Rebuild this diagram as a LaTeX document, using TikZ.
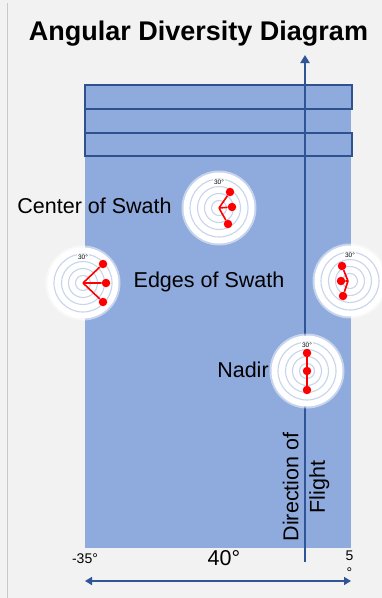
\documentclass[tikz,border=0pt]{standalone}
\usepackage{fontspec}
\setmainfont{Liberation Sans}
\usetikzlibrary{arrows.meta}
\definecolor{swath}{HTML}{8FAADC}
\definecolor{navy}{HTML}{2F5597}
\definecolor{stripline}{HTML}{2F528F}
\definecolor{ringblue}{HTML}{C6D4EC}
\definecolor{bg}{HTML}{F2F2F2}
\definecolor{edgegray}{HTML}{C8C8C8}

\begin{document}
\begin{tikzpicture}[x=1pt,y=-1pt,
  lbl/.style={font=\fontsize{21.5}{26.5}\selectfont, inner sep=0pt},
  small/.style={font=\fontsize{14}{17}\selectfont, inner sep=0pt},
  strip/.style={draw=stripline, line width=1.5pt},
  dot/.style={circle, fill=red, inner sep=0pt, minimum size=8.5pt},
  ray/.style={red, line width=1.6pt},
  polar/.pic={
    \fill[white, opacity=0.5] (0,0) circle (37.5);
    \fill[white] (0,0) circle (35.5);
    \foreach \r in {7.5,14.5,21.5,29}
      \draw[ringblue, line width=1.1pt] (0,0) circle (\r);
    \node[font=\fontsize{6.5}{6.5}\selectfont, inner sep=0.6pt, fill=white] at (0,-26) {30°};
  }]
% canvas
\fill[bg] (0,0) rectangle (382,598);
\useasboundingbox (0,0) rectangle (382,598);
\draw[edgegray, line width=1pt] (7,3) -- (7,598);

% title
\node[font=\bfseries\fontsize{27}{30}\selectfont, inner sep=0pt, anchor=base] (title) at (198.5,40) {Angular Diversity Diagram};

% swath area with the three scan strips
\fill[swath] (85,85) rectangle (351,548);
\draw[strip] (85,85) rectangle (352,109);
\draw[strip] (85,109) -- (350,109) (85,133) -- (350,133) (85,109) -- (85,133);
\draw[strip] (85,133) rectangle (352,156);

% flight direction arrow
\coordinate (flightTail) at (305,562);
\coordinate (flightHead) at (305,55);
\draw[navy, line width=2.5pt, -{Triangle[length=8pt,width=9pt]}] (flightTail) -- (flightHead);

% polar plots
\pic at (219,208) {polar};
\pic at (83,283) {polar};
\pic at (350,281) {polar};
\pic at (307,371) {polar};

% center of swath
\coordinate (cc) at (219,208);
\node[dot] (c1) at (230,192) {};
\node[dot] (c2) at (232,207) {};
\node[dot] (c3) at (228,224) {};
\draw[ray] (cc) -- (c1) (cc) -- (c2) (cc) -- (c3);

% left edge
\coordinate (lc) at (83,283);
\node[dot] (l1) at (103,264) {};
\node[dot] (l2) at (106,283) {};
\node[dot] (l3) at (103,302) {};
\draw[ray] (lc) -- (l1) (lc) -- (l2) (lc) -- (l3);

% right edge
\coordinate (rc) at (348,281);
\node[dot] (r1) at (342,266) {};
\node[dot] (r2) at (341,281) {};
\node[dot] (r3) at (343,296) {};
\draw[ray] (rc) -- (r1) (rc) -- (r2) (rc) -- (r3);

% nadir
\node[dot] (n1) at (307,353) {};
\node[dot] (n2) at (307,371) {};
\node[dot] (n3) at (307,390) {};
\draw[ray] (n1) -- (n2) -- (n3);

% labels
\node[lbl, anchor=base] (center) at (94.5,213) {Center of Swath};
\node[lbl, anchor=base] (edges) at (209,287) {Edges of Swath};
\node[lbl, anchor=base] (nadir) at (243,377) {Nadir};
\node[lbl, rotate=90, align=center] (flight) at (306,487) {Direction of\\Flight};

% angle scale
\node[small, anchor=base] (left) at (85,563) {-35°};
\node[lbl, anchor=base] (span) at (224,565) {40°};
\node[small, align=center, anchor=north] (right) at (349.5,551) {5\\°};
\coordinate (scaleL) at (85,581);
\coordinate (scaleR) at (351,581);
\draw[navy, line width=1.5pt, {Triangle[length=7pt,width=8pt]}-{Triangle[length=7pt,width=8pt]}] (scaleL) -- (scaleR);
\end{tikzpicture}
\end{document}
